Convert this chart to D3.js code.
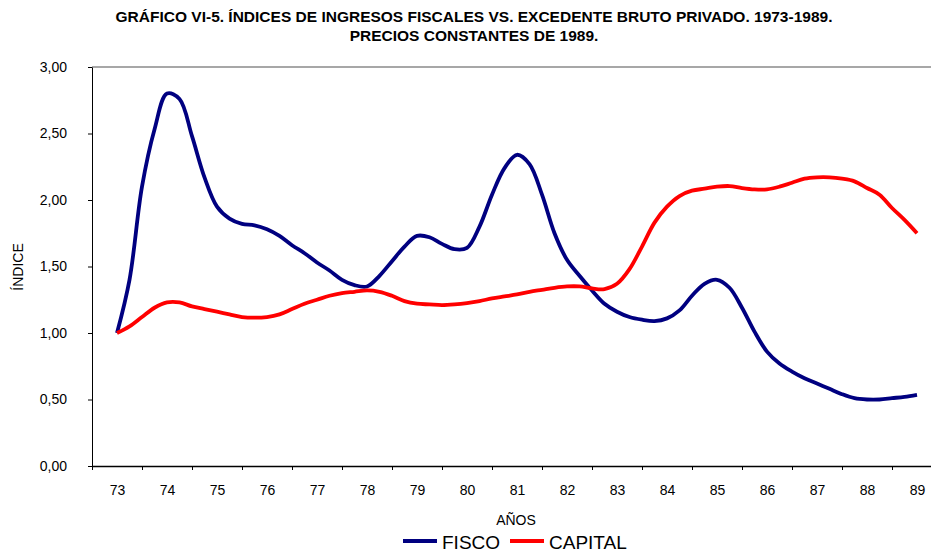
<!DOCTYPE html>
<html>
<head>
<meta charset="utf-8">
<script src="https://cdn.jsdelivr.net/npm/d3@7"></script>
<style>
  body { margin: 0; background: #fff; }
  svg { display: block; font-family: "Liberation Sans", Arial, sans-serif; }
  .axis text { font-size: 14px; fill: #000; }
</style>
</head>
<body>
<div id="chart"></div>
<script>
// categories on the x axis
const years = [73, 74, 75, 76, 77, 78, 79, 80, 81, 82, 83, 84, 85, 86, 87, 88, 89];
// quarterly readings, from 73 to 89 (65 points each)
const fisco = [
  1.00, 1.40, 2.10, 2.53, 2.80, 2.76, 2.48, 2.17,
  1.95, 1.86, 1.82, 1.81, 1.78, 1.73, 1.66, 1.60,
  1.53, 1.47, 1.40, 1.36, 1.35, 1.43, 1.54, 1.65,
  1.73, 1.72, 1.67, 1.63, 1.64, 1.80, 2.04, 2.24,
  2.34, 2.27, 2.04, 1.75, 1.55, 1.43, 1.32, 1.22,
  1.16, 1.12, 1.10, 1.09, 1.11, 1.17, 1.28, 1.37,
  1.40, 1.34, 1.19, 1.01, 0.86, 0.77, 0.71, 0.66,
  0.62, 0.58, 0.54, 0.51, 0.50, 0.50, 0.51, 0.52,
  0.535
];
const capital = [
  1.00, 1.05, 1.12, 1.19, 1.23, 1.23, 1.20, 1.18,
  1.16, 1.14, 1.12, 1.115, 1.12, 1.14, 1.18, 1.22,
  1.25, 1.28, 1.30, 1.31, 1.32, 1.31, 1.28, 1.24,
  1.22, 1.215, 1.21, 1.215, 1.225, 1.24, 1.26, 1.275,
  1.29, 1.31, 1.325, 1.34, 1.35, 1.35, 1.335, 1.33,
  1.37, 1.48, 1.65, 1.83, 1.95, 2.03, 2.07, 2.085,
  2.10, 2.105, 2.09, 2.08, 2.08, 2.10, 2.13, 2.16,
  2.17, 2.17, 2.16, 2.14, 2.09, 2.04, 1.94, 1.85,
  1.75
];
const yTicks = [0, 0.5, 1, 1.5, 2, 2.5, 3];

const svgWidth = 931;
const svgHeight = 552;
const plot = { left: 92, top: 67, bottom: 466, right: 942 };

const svg = d3.select("#chart").append("svg")
    .attr("width", svgWidth)
    .attr("height", svgHeight);

const x = d3.scaleLinear()
    .domain([years[0] - 0.5, years[years.length - 1] + 0.5])
    .range([plot.left, plot.right]);

const y = d3.scaleLinear()
    .domain([0, 3])
    .range([plot.bottom, plot.top]);

const fmt = d3.formatLocale({ decimal: ",", thousands: ".", grouping: [3], currency: ["", ""] }).format(".2f");

// title
svg.append("text")
    .attr("x", 474).attr("y", 22)
    .attr("text-anchor", "middle")
    .attr("font-weight", "bold").attr("font-size", 15.5)
    .text("GRÁFICO VI-5. ÍNDICES DE INGRESOS FISCALES VS. EXCEDENTE BRUTO PRIVADO. 1973-1989.");
svg.append("text")
    .attr("x", 474).attr("y", 41)
    .attr("text-anchor", "middle")
    .attr("font-weight", "bold").attr("font-size", 15.5)
    .text("PRECIOS CONSTANTES DE 1989.");

// top border of plot area
svg.append("line")
    .attr("x1", plot.left).attr("x2", svgWidth)
    .attr("y1", plot.top).attr("y2", plot.top)
    .attr("stroke", "#8a8a8a").attr("stroke-width", 1.5);

// y axis
svg.append("g")
    .attr("class", "axis")
    .attr("transform", `translate(${plot.left},0)`)
    .call(d3.axisLeft(y).tickValues(yTicks).tickFormat(fmt).tickSize(4).tickSizeOuter(0).tickPadding(21))
    .call(g => g.select(".domain").attr("stroke", "#000"));

// x axis: labels at category centres, ticks between categories
svg.append("g")
    .attr("class", "axis")
    .attr("transform", `translate(0,${plot.bottom})`)
    .call(d3.axisBottom(x).tickValues(years).tickFormat(d => d).tickSize(0).tickPadding(19))
    .call(g => g.select(".domain").attr("stroke", "#000").attr("stroke-width", 1.5));

svg.append("g")
    .attr("class", "axis")
    .attr("transform", `translate(0,${plot.bottom})`)
    .call(d3.axisBottom(x).tickValues(years.map(d => d - 0.5)).tickFormat("").tickSize(4))
    .call(g => g.select(".domain").remove());

// axis titles
svg.append("text")
    .attr("transform", "translate(23,267) rotate(-90)")
    .attr("text-anchor", "middle")
    .attr("font-size", 14)
    .text("ÍNDICE");

svg.append("text")
    .attr("x", 516).attr("y", 525)
    .attr("text-anchor", "middle")
    .attr("font-size", 14)
    .text("AÑOS");

// lines
const line = d3.line()
    .x((d, i) => x(years[0] + i / 4))
    .y(d => y(d))
    .curve(d3.curveCatmullRom.alpha(0.5));

svg.append("path")
    .datum(fisco)
    .attr("fill", "none")
    .attr("stroke", "#000080")
    .attr("stroke-width", 3.8)
    .attr("stroke-linejoin", "round")
    .attr("d", line);

svg.append("path")
    .datum(capital)
    .attr("fill", "none")
    .attr("stroke", "#ff0000")
    .attr("stroke-width", 3.8)
    .attr("stroke-linejoin", "round")
    .attr("d", line);

// legend
const legend = [
  { name: "FISCO", color: "#000080", x: 403 },
  { name: "CAPITAL", color: "#ff0000", x: 510 }
];
const lg = svg.append("g").selectAll("g")
    .data(legend)
    .join("g")
    .attr("transform", d => `translate(${d.x},541)`);
lg.append("line")
    .attr("x1", 0).attr("x2", 34)
    .attr("stroke", d => d.color)
    .attr("stroke-width", 4);
lg.append("text")
    .attr("x", 39).attr("y", 7.5)
    .attr("font-size", 19)
    .text(d => d.name);
</script>
</body>
</html>
